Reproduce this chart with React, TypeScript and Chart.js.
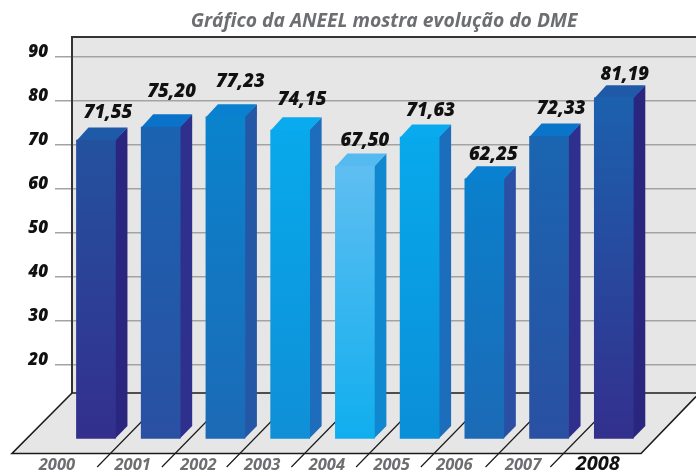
import React, { useEffect, useRef } from "react";
import { Chart, registerables } from "chart.js";

Chart.register(...registerables);

// Data
const years = [2000, 2001, 2002, 2003, 2004, 2005, 2006, 2007, 2008];
// Printed values
const valueLabels = ["71,55", "75,20", "77,23", "74,15", "67,50", "71,63", "62,25", "72,33", "81,19"];
// Heights of the bars as they are drawn, read against the gridlines
const drawnHeights = [71.1, 74.1, 76.4, 73.4, 65.2, 71.8, 62.3, 72.0, 80.7];
const yTicks = [20, 30, 40, 50, 60, 70, 80, 90];

// Styles
const frontTop = ["#24529f", "#1b63b1", "#0a83cd", "#08a9ec", "#5fbef1", "#08a9ec", "#0a80cc", "#1a65b1", "#1c61ae"];
const frontBottom = ["#332f8d", "#2a50a2", "#1c6ab6", "#0f8fd6", "#10aeee", "#0a8fd8", "#1c6ab6", "#2a50a2", "#332f8d"];
const sideFace = ["#2a2680", "#2f2f8e", "#2457a5", "#1e6cbc", "#0f88d0", "#1c6ebc", "#2a4fa5", "#2f2f8e", "#2a2680"];
const topFace = ["#1f5aa8", "#0a72c8", "#0a80d0", "#0aaaee", "#55baf0", "#0aaaee", "#0a80d0", "#0a74c8", "#1f5aa8"];

// Layout
const axisMin = 3.25;
const axisMax = 94.55;
const depthX = 12;
const depthY = 12.7;
const wallLeft = 72;
const wallTop = 37;
const wallBottom = 393;
const floorBottom = 453.5;
const floorLeft = 12;
const floorRight = 641;
const labelRaise = [15, 23, 22, 18, 13, 14, 11, 15, 11];
const labelShift = [12, 11, 15, 12, 10, 11, 9, 12, 11];
const yearShift = [-39, -28, -27, -28, -28, -28, -30, -26, -16];
const fontFamily = "'Open Sans', 'Noto Sans', sans-serif";

const scenery = {
  id: "scenery",
  beforeDraw(chart: any) {
    const { ctx, width } = chart;
    ctx.save();
    ctx.fillStyle = "#ffffff";
    ctx.fillRect(0, 0, width, chart.height);
    ctx.fillStyle = "#e6e6e6";
    ctx.fillRect(wallLeft, wallTop, width - wallLeft, wallBottom - wallTop);
    ctx.beginPath();
    ctx.moveTo(wallLeft, wallBottom);
    ctx.lineTo(floorLeft, floorBottom);
    ctx.lineTo(floorRight, floorBottom);
    ctx.lineTo(floorRight + 55, floorBottom - 57);
    ctx.lineTo(width, wallBottom);
    ctx.closePath();
    ctx.fill();
    ctx.restore();
  },
  beforeDatasetsDraw(chart: any) {
    const { ctx, width } = chart;
    const x = chart.scales.x;
    const bars = chart.getDatasetMeta(0).data;
    ctx.save();
    ctx.strokeStyle = "#333333";
    ctx.lineWidth = 2;
    ctx.beginPath();
    ctx.moveTo(width, wallTop);
    ctx.lineTo(wallLeft, wallTop);
    ctx.lineTo(wallLeft, wallBottom);
    ctx.stroke();
    ctx.strokeStyle = "#1c1c1c";
    ctx.lineWidth = 1.6;
    ctx.beginPath();
    ctx.moveTo(wallLeft, wallBottom);
    ctx.lineTo(width, wallBottom);
    ctx.moveTo(wallLeft, wallBottom);
    ctx.lineTo(floorLeft, floorBottom);
    ctx.lineTo(floorRight, floorBottom);
    ctx.lineTo(floorRight + 55, floorBottom - 57);
    ctx.stroke();
    ctx.lineWidth = 1.2;
    ctx.beginPath();
    for (let i = 1; i < years.length; i++) {
      const left = x.getPixelForValue(years[i]) - bars[i].width / 2;
      ctx.moveTo(left + 1, 421);
      ctx.lineTo(left - 44, 467);
    }
    ctx.stroke();
    bars.forEach((bar: any, i: number) => {
      const right = bar.x + bar.width / 2;
      const left = bar.x - bar.width / 2;
      ctx.fillStyle = sideFace[i];
      ctx.beginPath();
      ctx.moveTo(right - 0.5, bar.y);
      ctx.lineTo(right + depthX, bar.y - depthY);
      ctx.lineTo(right + depthX, bar.base - depthY);
      ctx.lineTo(right - 0.5, bar.base);
      ctx.closePath();
      ctx.fill();
      ctx.fillStyle = topFace[i];
      ctx.beginPath();
      ctx.moveTo(left, bar.y + 0.5);
      ctx.lineTo(right, bar.y + 0.5);
      ctx.lineTo(right + depthX, bar.y - depthY);
      ctx.lineTo(left + depthX, bar.y - depthY);
      ctx.closePath();
      ctx.fill();
    });
    ctx.restore();
  },
  afterDatasetsDraw(chart: any) {
    const { ctx } = chart;
    const y = chart.scales.y;
    const bars = chart.getDatasetMeta(0).data;
    ctx.save();
    ctx.textBaseline = "middle";
    ctx.fillStyle = "#111111";
    ctx.textAlign = "center";
    ctx.font = `italic 800 18.5px ${fontFamily}`;
    bars.forEach((bar: any, i: number) => {
      ctx.fillText(valueLabels[i], bar.x + labelShift[i], bar.y - depthY - labelRaise[i]);
    });
    ctx.textAlign = "right";
    ctx.font = `italic 800 17px ${fontFamily}`;
    y.ticks.forEach((t: any) => {
      ctx.fillText(String(t.value), 48, y.getPixelForValue(t.value) - 4.5);
    });
    ctx.textAlign = "center";
    bars.forEach((bar: any, i: number) => {
      const last = i === years.length - 1;
      ctx.font = `italic 700 ${last ? 20 : 16.5}px ${fontFamily}`;
      ctx.fillStyle = last ? "#111111" : "#6d6e71";
      ctx.fillText(String(years[i]), bar.x + yearShift[i], last ? 464 : 465);
    });
    ctx.restore();
  },
};

export default function App() {
  const ref = useRef<HTMLCanvasElement>(null);
  useEffect(() => {
    const chart = new Chart(ref.current as HTMLCanvasElement, {
      type: "bar",
      data: {
        datasets: [
          {
            data: years.map((year, i) => ({ x: year, y: drawnHeights[i] })),
            base: axisMin,
            barThickness: 39,
            borderWidth: 0,
            backgroundColor: (c: any) => {
              const area = c.chart.chartArea;
              if (!area || c.dataIndex === undefined) return frontTop[0];
              const i = c.dataIndex;
              const yScale = c.chart.scales.y;
              const g = c.chart.ctx.createLinearGradient(0, yScale.getPixelForValue(drawnHeights[i]), 0, area.bottom);
              g.addColorStop(0, frontTop[i]);
              g.addColorStop(1, frontBottom[i]);
              return g;
            },
          },
        ],
      },
      options: {
        responsive: false,
        animation: false,
        layout: { padding: { left: 55, right: 0, top: 0, bottom: 33.3 } },
        scales: {
          x: {
            type: "linear",
            offset: false,
            min: 1999.63,
            max: 2009.27,
            grid: { display: false, drawTicks: false, offset: false },
            border: { display: false },
            ticks: { display: false },
          },
          y: {
            min: axisMin,
            max: axisMax,
            afterBuildTicks: (scale: any) => {
              scale.ticks = yTicks.map((value) => ({ value }));
            },
            border: { display: false },
            grid: { color: "#a3a3a3", lineWidth: 1.5, tickLength: 17, tickColor: "#a3a3a3" },
            ticks: { display: false },
          },
        },
        plugins: {
          legend: { display: false },
          tooltip: { enabled: false },
          title: {
            display: true,
            text: "Gráfico da ANEEL mostra evolução do DME",
            fullSize: false,
            color: "#6d6e71",
            font: { family: fontFamily, size: 19.3, weight: "bold", style: "italic", lineHeight: 1.2 },
            padding: { top: 10, bottom: 3.84 },
          },
        },
      } as any,
      plugins: [scenery],
    });
    return () => chart.destroy();
  }, []);
  return (
    <div style={{ position: "absolute", left: 0, top: 0 }}>
      <canvas ref={ref} width={696} height={472} style={{ display: "block" }} />
    </div>
  );
}
